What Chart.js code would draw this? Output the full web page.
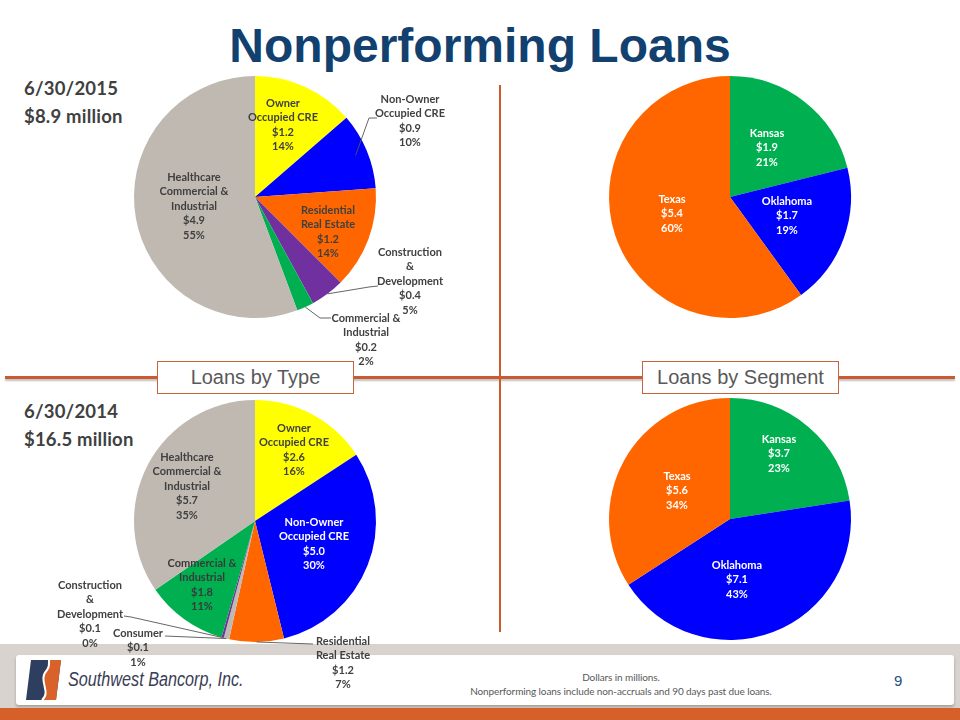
<!DOCTYPE html>
<html>
<head>
<meta charset="utf-8">
<script src="https://cdn.jsdelivr.net/npm/chart.js@4.4.1/dist/chart.umd.min.js"></script>
<style>
  html, body { margin: 0; padding: 0; background: #fff; }
  #slide { position: relative; width: 960px; height: 720px; overflow: hidden; background: #fff; }
  #slide canvas { position: absolute; left: 0; top: 0; z-index: 5; }
  h1 { position: absolute; left: 0; top: 18px; width: 960px; margin: 0; text-align: center;
       font: bold 48px "Liberation Sans", Arial, sans-serif; color: #12406F; }
  .date { position: absolute; left: 24px; font: bold 18.5px Lato, sans-serif; color: #404040; line-height: 28px; letter-spacing: 0.2px; }
  .hline { position: absolute; left: 5px; top: 376px; width: 950px; height: 3px; background: #CB5B2F;
           box-shadow: 0 2px 2px rgba(0,0,0,0.25); }
  .vline { position: absolute; left: 499px; top: 85px; width: 2px; height: 547px; background: #CB5B2F; }
  .box { position: absolute; top: 361px; width: 195px; height: 31px; background: #fff; border: 1px solid #C8643C;
         font: 20px "Liberation Sans", Arial, sans-serif; color: #595959; text-align: center; line-height: 31px; }
  #footer { position: absolute; left: 0; top: 644px; width: 960px; height: 76px; background: #D8D3CE; z-index: 1; }
  #footer .panel { position: absolute; left: 16px; top: 11px; width: 938px; height: 50px; background: #fff;
                   border-radius: 3px; box-shadow: 0 2px 3px rgba(0,0,0,0.25); }
  #footer .orange { position: absolute; left: 0; bottom: 0; width: 960px; height: 12px; background: #D5602A; }
  .brand { position: absolute; left: 68px; top: 668px; z-index: 2; font: italic 20px "Liberation Sans", Arial, sans-serif;
           color: #3A3D55; transform: scaleX(0.81); transform-origin: left; white-space: nowrap; }
  .logo { position: absolute; left: 25px; top: 658px; z-index: 2; }
  .note { position: absolute; left: 421px; width: 400px; text-align: center; z-index: 2;
          font: 10px Lato, sans-serif; color: #595959; letter-spacing: -0.1px; }
  .pnum { position: absolute; left: 894px; top: 672px; z-index: 2; font: 15px "Liberation Sans", Arial, sans-serif; color: #1F4E79; }
</style>
</head>
<body>
<div id="slide">
  <h1>Nonperforming Loans</h1>
  <div class="date" style="top:74px;">6/30/2015<br>$8.9 million</div>
  <div class="date" style="top:397px;">6/30/2014<br>$16.5 million</div>

  <div class="hline"></div>
  <div class="vline"></div>
  <div class="box" style="left:157px;">Loans by Type</div>
  <div class="box" style="left:642px;">Loans by Segment</div>

  <div id="footer"><div class="panel"></div><div class="orange"></div></div>
  <svg class="logo" width="38" height="44" viewBox="0 0 38 44">
    <path d="M6 2 H36 L31 42 H1 Z" fill="#2D3E5E"/>
    <path d="M24 2 H36 L31 42 H17 C27 34 12 22 22 12 C25 8 24 4 24 2 Z" fill="#D9622B"/>
    <path d="M24 2 C24 4 25 8 22 12 C12 22 27 34 17 42" fill="none" stroke="#fff" stroke-width="2"/>
  </svg>
  <div class="brand">Southwest Bancorp, Inc.</div>
  <div class="note" style="top:671px;">Dollars in millions.</div>
  <div class="note" style="top:685px;">Nonperforming loans include non-accruals and 90 days past due loans.</div>
  <div class="pnum">9</div>

  <canvas id="pieType15" width="960" height="720"></canvas>
  <canvas id="pieType14" width="960" height="720"></canvas>
  <canvas id="pieSeg15" width="960" height="720"></canvas>
  <canvas id="pieSeg14" width="960" height="720"></canvas>
</div>

<script>
// === Data ===
const typeLabels15 = [["Owner", "Occupied CRE"], ["Non-Owner", "Occupied CRE"], ["Residential", "Real Estate"],
  ["Construction", "&", "Development"], ["Commercial &", "Industrial"], ["Healthcare", "Commercial &", "Industrial"]];
const typeValues15 = [1.2, 0.9, 1.2, 0.4, 0.2, 4.9];
const typePct15 = ["14%", "10%", "14%", "5%", "2%", "55%"];

const typeLabels14 = [["Owner", "Occupied CRE"], ["Non-Owner", "Occupied CRE"], ["Residential", "Real Estate"],
  ["Consumer"], ["Construction", "&", "Development"], ["Commercial &", "Industrial"], ["Healthcare", "Commercial &", "Industrial"]];
const typeValues14 = [2.6, 5.0, 1.2, 0.12, 0.05, 1.8, 5.7];   // slivers
const typeShown14 = ["$2.6", "$5.0", "$1.2", "$0.1", "$0.1", "$1.8", "$5.7"];
const typePct14 = ["16%", "30%", "7%", "1%", "0%", "11%", "35%"];

const segLabels = [["Kansas"], ["Oklahoma"], ["Texas"]];
const segValues15 = [1.9, 1.7, 5.4];
const segPct15 = ["21%", "19%", "60%"];
const segValues14 = [3.7, 7.1, 5.6];
const segPct14 = ["23%", "43%", "34%"];

const YELLOW = "#FFFF00", BLUE = "#0000FF", ORANGE = "#FF6600", PURPLE = "#7030A0", GREEN = "#00B050", GRAY = "#BFB9B2";
const typeColors15 = [YELLOW, BLUE, ORANGE, PURPLE, GREEN, GRAY];
const typeColors14 = [YELLOW, BLUE, ORANGE, GRAY, PURPLE, GREEN, GRAY];
const segColors = [GREEN, BLUE, ORANGE];

const money = (v) => "$" + v.toFixed(1);
const DARK = "#404040";
const PIE_R = 121;

// pie placed on a full-slide canvas through layout padding
function piePadding(cx, cy) {
  return { left: cx - PIE_R, top: cy - PIE_R, right: 960 - cx - PIE_R, bottom: 720 - cy - PIE_R };
}

// === Labels + leader lines ===
const sliceLabels = {
  id: "sliceLabels",
  afterDatasetsDraw(chart, args, opts) {
    const ctx = chart.ctx;
    const arcs = chart.getDatasetMeta(0).data;
    const labels = chart.data.labels;
    ctx.save();
    opts.items.forEach((it, i) => {
      if (!it) return;
      if (it.from) {
        const a = arcs[i];
        const mid = (a.startAngle + a.endAngle) / 2;
        const r = a.outerRadius * (it.depth || 1);
        const pts = [it.from];
        if (it.elbow) pts.push(it.elbow);
        pts.push([a.x + Math.cos(mid) * r, a.y + Math.sin(mid) * r]);
        ctx.strokeStyle = "#555";
        ctx.lineWidth = 0.9;
        ctx.beginPath();
        pts.forEach((p, k) => (k ? ctx.lineTo(p[0], p[1]) : ctx.moveTo(p[0], p[1])));
        ctx.stroke();
      }
      const lines = labels[i].concat([opts.amounts[i], opts.pcts[i]]);
      ctx.font = "bold 11px Lato, sans-serif";
      ctx.fillStyle = it.color || DARK;
      ctx.textAlign = "center";
      ctx.textBaseline = "middle";
      lines.forEach((t, k) => ctx.fillText(t, it.x, it.y + k * 14.6));
    });
    ctx.restore();
  }
};

function makePie(id, labels, values, colors, cx, cy, labelOpts) {
  return new Chart(document.getElementById(id), {
    type: "pie",
    data: {
      labels: labels,
      datasets: [{ data: values, backgroundColor: colors, borderWidth: 0 }]
    },
    options: {
      responsive: false,
      animation: false,
      events: [],
      layout: { padding: piePadding(cx, cy) },
      plugins: { legend: { display: false }, tooltip: { enabled: false }, sliceLabels: labelOpts }
    },
    plugins: [sliceLabels]
  });
}

makePie("pieType15", typeLabels15, typeValues15, typeColors15, 255, 197, {
  amounts: typeValues15.map(money),
  pcts: typePct15,
  items: [
    { x: 283, y: 103 },
    { x: 410, y: 99, from: [377, 118], elbow: [369, 118], depth: 0.9 },
    { x: 328, y: 210 },
    { x: 410, y: 252, from: [378, 286], elbow: [369, 287] },
    { x: 366, y: 318, from: [331, 318], elbow: [320, 318] },
    { x: 194, y: 177 }
  ]
});

makePie("pieType14", typeLabels14, typeValues14, typeColors14, 255, 521, {
  amounts: typeShown14,
  pcts: typePct14,
  items: [
    { x: 294, y: 428 },
    { x: 314, y: 522, color: "#fff" },
    { x: 343, y: 641, from: [313, 644] },
    { x: 138, y: 633, from: [165, 636] },
    { x: 90, y: 585, from: [124, 616], elbow: [131, 617] },
    { x: 202, y: 563, color: "#3A3A3A" },
    { x: 187, y: 457 }
  ]
});

makePie("pieSeg15", segLabels, segValues15, segColors, 730, 197, {
  amounts: segValues15.map(money),
  pcts: segPct15,
  items: [
    { x: 767, y: 133, color: "#fff" },
    { x: 787, y: 201, color: "#fff" },
    { x: 672, y: 199, color: "#fff" }
  ]
});

makePie("pieSeg14", segLabels, segValues14, segColors, 730, 519, {
  amounts: segValues14.map(money),
  pcts: segPct14,
  items: [
    { x: 779, y: 439, color: "#fff" },
    { x: 737, y: 565, color: "#fff" },
    { x: 677, y: 476, color: "#fff" }
  ]
});
</script>
</body>
</html>
